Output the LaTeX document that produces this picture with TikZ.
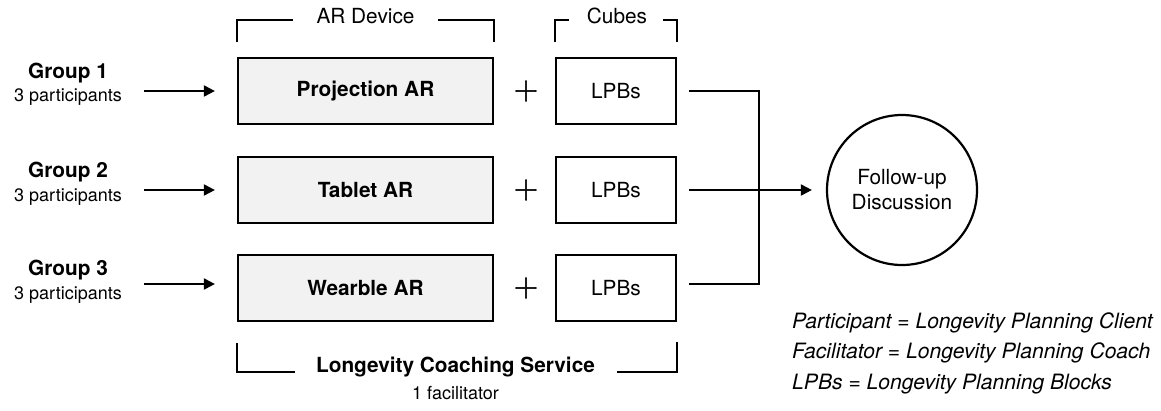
\documentclass[tikz,border=0pt]{standalone}
\usepackage{fontspec}
\setmainfont{TeX Gyre Heros}
\newfontfamily\plusfont{lmroman10-regular.otf}[FakeBold=1.6]
\usetikzlibrary{arrows.meta}
\begin{document}
\begin{tikzpicture}[x=1pt,y=-1pt,
  line/.style={line width=2pt, draw=black},
  arr/.style={line width=2pt, draw=black, -{Triangle[length=11pt,width=11pt]}},
  brk/.style={line width=2pt, draw=black},
  devbox/.style={draw=black, line width=2.2pt, fill=black!5, minimum width=255pt, minimum height=66pt, inner sep=0pt, font=\fontsize{20.8}{24}\selectfont\bfseries},
  cubebox/.style={draw=black, line width=2.2pt, fill=white, minimum width=120pt, minimum height=66pt, inner sep=0pt, font=\fontsize{20.8}{24}\selectfont},
  grp/.style={inner sep=0pt, anchor=mid, font=\fontsize{20.8}{24}\selectfont\bfseries},
  sub/.style={inner sep=0pt, anchor=mid, font=\fontsize{18}{22}\selectfont},
  lbl/.style={inner sep=0pt, anchor=mid, font=\fontsize{20.8}{24}\selectfont},
  plus/.style={inner sep=0pt, font=\fontsize{32}{32}\plusfont},
  leg/.style={inner sep=0pt, anchor=mid west, font=\fontsize{21.1}{24}\selectfont\itshape}
]
\useasboundingbox (0,0) rectangle (1161,410);

% device boxes
\node[devbox] (p1) at (365.5,91) {Projection AR};
\node[devbox] (p2) at (365.5,190) {Tablet AR};
\node[devbox] (p3) at (365.5,288) {Wearble AR};
% cube boxes
\node[cubebox] (l1) at (616,91) {LPBs};
\node[cubebox] (l2) at (616,190) {LPBs};
\node[cubebox] (l3) at (616,288) {LPBs};
% plus signs
\node[plus] (s1) at (526,91) {+};
\node[plus] (s2) at (526,190) {+};
\node[plus] (s3) at (526,288) {+};

% group labels
\node[grp] (g1) at (68,76) {Group 1};
\node[sub] (g1s) at (68,99) {3 participants};
\node[grp] (g2) at (68,175) {Group 2};
\node[sub] (g2s) at (68,199) {3 participants};
\node[grp] (g3) at (68,273) {Group 3};
\node[sub] (g3s) at (68,297) {3 participants};

\draw[arr, shorten <=22pt, shorten >=22pt] (g1s.east |- p1.west) -- (p1.west);
\draw[arr, shorten <=22pt, shorten >=22pt] (g2s.east |- p2.west) -- (p2.west);
\draw[arr, shorten <=22pt, shorten >=22pt] (g3s.east |- 0,284) -- (p3.west |- 0,284);

% follow-up
\node[draw=black, line width=2.2pt, circle, minimum size=150pt, inner sep=0pt, align=center,
  font=\fontsize{20.8}{25}\selectfont] (fu) at (902,190) {Follow-up\\Discussion};
\coordinate (j) at (759,190);
\draw[line, shorten <=12pt] (l1.east) -| (j);
\draw[line, shorten <=12pt] (l3.east |- 0,284) -| (j);
\draw[arr, shorten <=12pt, shorten >=14pt] (l2.east) -- (fu.west);

% top brackets
\node[lbl] (ard) at (365.5,21) {AR Device};
\draw[brk] (237,42) -- (237,20) -- (293,20);
\draw[brk] (438,20) -- (494,20) -- (494,42);
\node[lbl] (cub) at (617,21) {Cubes};
\draw[brk] (555,42) -- (555,20) -- (569,20);
\draw[brk] (663,20) -- (677,20) -- (677,42);

% bottom bracket
\draw[brk] (237,343) -- (237,372) -- (295,372);
\draw[brk] (617,372) -- (677,372) -- (677,342);
\node[grp] (lcs) at (455.5,370) {Longevity Coaching Service};
\node[sub] (fac) at (455.5,397) {1 facilitator};

% legend
\node[leg] (lg1) at (792,326) {Participant = Longevity Planning Client};
\node[leg] (lg2) at (792,356) {Facilitator = Longevity Planning Coach};
\node[leg] (lg3) at (792,387) {LPBs = Longevity Planning Blocks};
\end{tikzpicture}
\end{document}
